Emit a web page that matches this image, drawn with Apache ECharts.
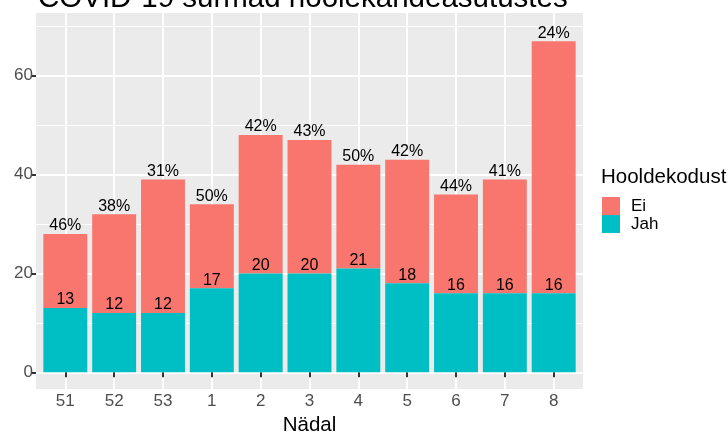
<!DOCTYPE html>
<html><head><meta charset="utf-8">
<script src="https://cdn.jsdelivr.net/npm/echarts@6/dist/echarts.min.js"></script>
<style>html,body{margin:0;padding:0;background:#fff}#c{width:728px;height:432px}</style>
</head><body><div id="c"></div>
<script>
const weeks = ['51','52','53','1','2','3','4','5','6','7','8'];
const jah = [13,12,12,17,20,20,21,18,16,16,16];
const ei = [15,20,27,17,28,27,21,25,20,23,51];
const pctLabels = ['46%','38%','31%','50%','42%','43%','50%','42%','44%','41%','24%'];

const FONT = "'Liberation Sans', Arial, sans-serif";
const chart = echarts.init(document.getElementById('c'), null, {renderer:'canvas'});
chart.setOption({
  animation: false,
  textStyle: {fontFamily: FONT},
  title: [
    {text: 'COVID-19 surmad hoolekandeasutustes', left: 38, top: -16, padding: 0,
     textStyle: {fontFamily: FONT, fontSize: 29.5, fontWeight: 'normal', color: '#000'}},
    {text: 'Hooldekodust', left: 601, top: 167, padding: 0,
     textStyle: {fontFamily: FONT, fontSize: 20.5, fontWeight: 'normal', color: '#000'}}
  ],
  legend: {
    data: ['Ei', 'Jah'], orient: 'vertical', left: 602, top: 197, padding: 0,
    itemWidth: 18, itemHeight: 18, itemGap: 0, icon: 'rect', selectedMode: false,
    textStyle: {fontFamily: FONT, fontSize: 17, color: '#000', padding: [0,0,0,6]}
  },
  grid: [
    {left: 36, top: 13, width: 547, height: 376, show: true, backgroundColor: '#EBEBEB', borderWidth: 0, outerBoundsMode: 'none', containLabel: false},
    {left: 40.9, top: 13, width: 537.2, height: 376, show: false, outerBoundsMode: 'none', containLabel: false},
    {left: 36, top: -23.1, width: 547, height: 395.4, show: false, outerBoundsMode: 'none', containLabel: false}
  ],
  xAxis: [
    {gridIndex: 0, type: 'value', show: false, min: 0, max: 1},
    {gridIndex: 1, type: 'category', data: weeks, boundaryGap: true,
     axisLine: {show: false},
     axisTick: {show: true, alignWithLabel: true, length: 5, lineStyle: {color: '#333', width: 2}},
     axisLabel: {interval: 0, color: '#4D4D4D', fontSize: 17, margin: 4, fontFamily: FONT},
     splitLine: {show: true, alignWithLabel: true, interval: 0, lineStyle: {color: '#fff', width: 2}},
     name: 'Nädal', nameLocation: 'middle', nameGap: 24,
     nameTextStyle: {color: '#000', fontSize: 20.5, fontFamily: FONT}},
    {gridIndex: 2, type: 'value', show: false, min: 0, max: 1}
  ],
  yAxis: [
    {gridIndex: 0, type: 'value', show: false, min: 0, max: 1},
    {gridIndex: 1, type: 'value', show: false, min: -3.38, max: 72.7},
    {gridIndex: 2, type: 'value', min: 0, max: 80, interval: 20,
     axisLine: {show: false},
     axisTick: {show: true, length: 5, lineStyle: {color: '#333', width: 2}},
     axisLabel: {color: '#4D4D4D', fontSize: 17, margin: 3, fontFamily: FONT},
     splitLine: {show: true, lineStyle: {color: '#fff', width: 2}}},
    {gridIndex: 2, type: 'value', min: 0, max: 80, interval: 10,
     axisLine: {show: false}, axisTick: {show: false}, axisLabel: {show: false},
     splitLine: {show: true, lineStyle: {color: '#fff', width: 1}}}
  ],
  series: [
    {type: 'bar', name: 'Jah', xAxisIndex: 1, yAxisIndex: 1, stack: 'a', data: jah,
     barWidth: '90%', z: 3, itemStyle: {color: '#00BFC4'},
     label: {show: true, position: 'top', distance: 0, color: '#000', fontSize: 16, fontFamily: FONT}},
    {type: 'bar', name: 'Ei', xAxisIndex: 1, yAxisIndex: 1, stack: 'a', data: ei,
     barWidth: '90%', itemStyle: {color: '#F8766D'},
     label: {show: true, position: 'top', distance: 0, color: '#000', fontSize: 16, fontFamily: FONT,
             formatter: p => pctLabels[p.dataIndex]}}
  ]
});
</script></body></html>
